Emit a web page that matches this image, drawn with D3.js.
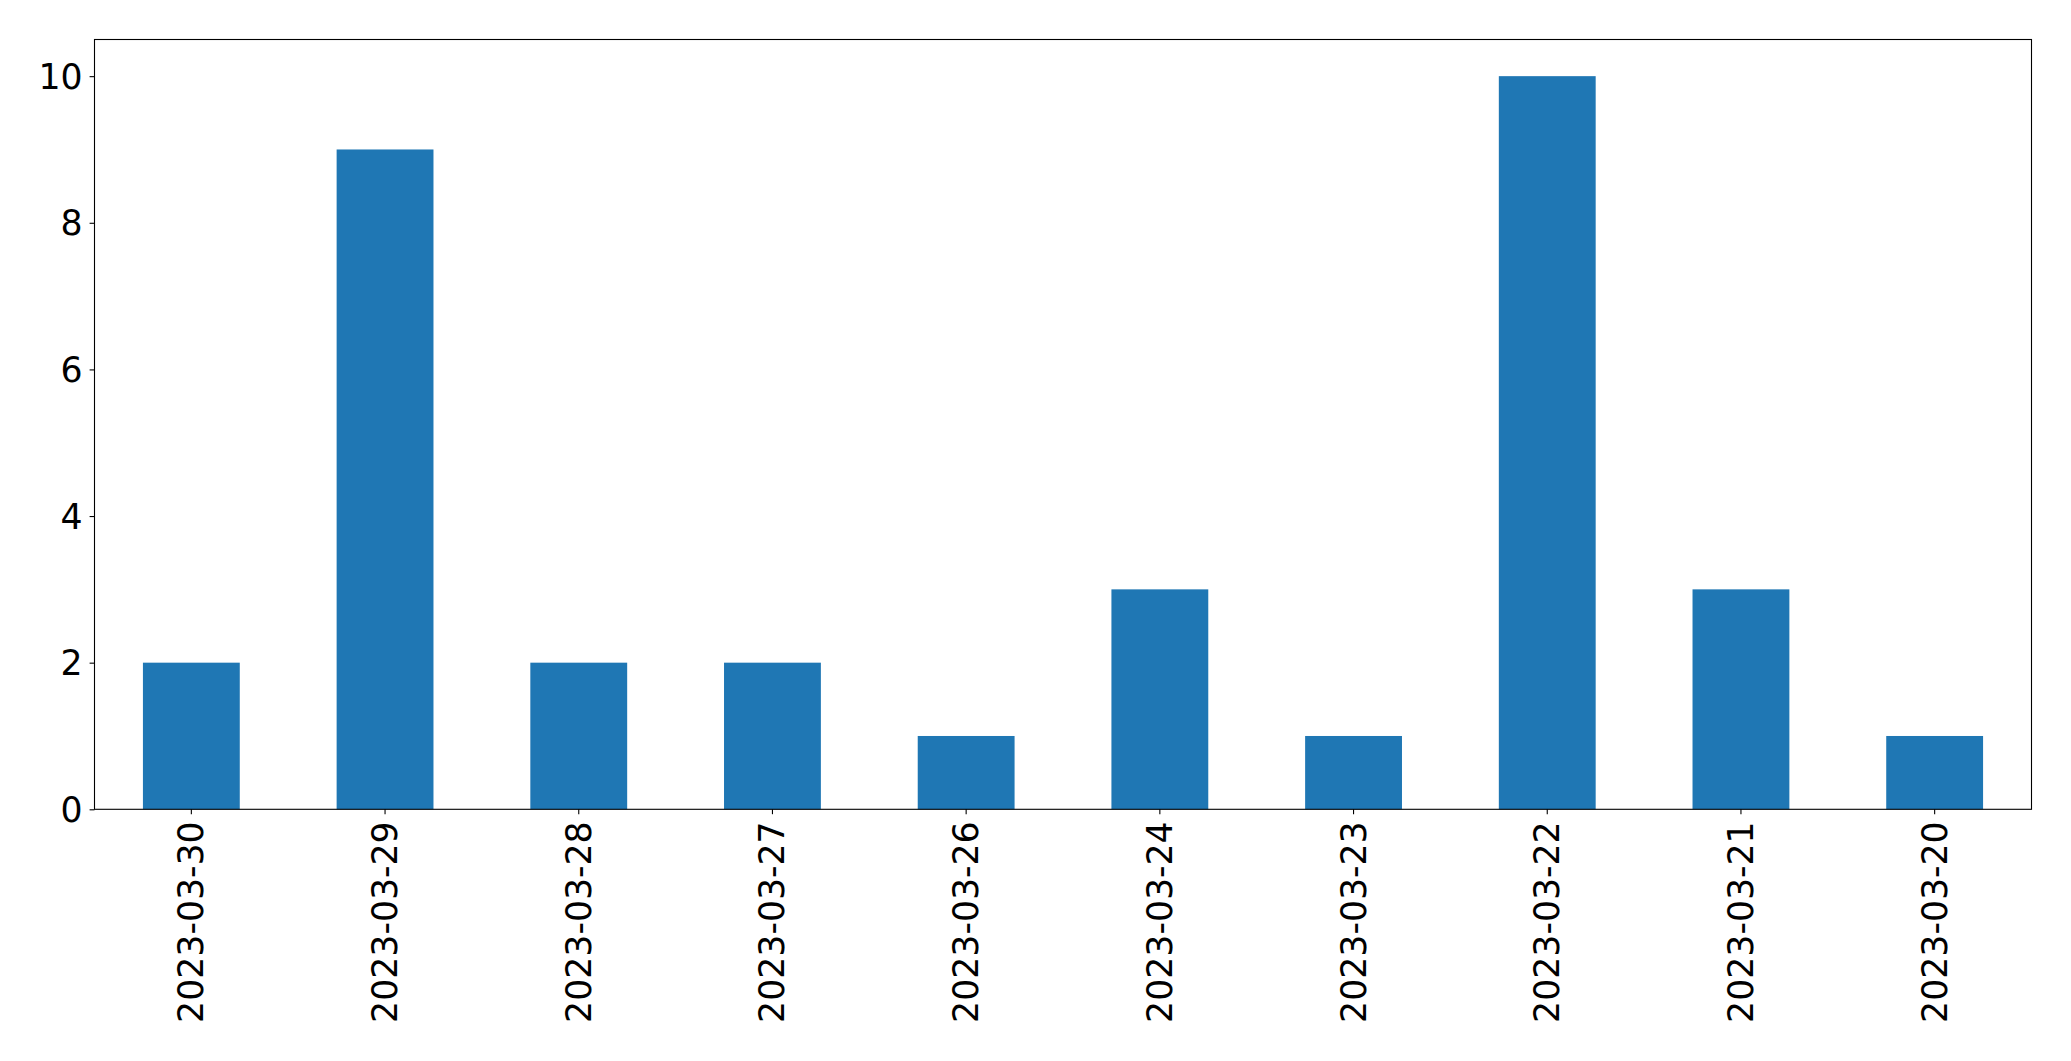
<!DOCTYPE html>
<html><head><meta charset="utf-8">
<script src="https://cdn.jsdelivr.net/npm/d3@7"></script>
<style>body{margin:0;background:#fff}svg{display:block}text{font-family:"DejaVu Sans",sans-serif}</style>
</head><body><svg id="c" width="2071" height="1061"></svg>
<script>
const categories = ["2023-03-30","2023-03-29","2023-03-28","2023-03-27","2023-03-26","2023-03-24","2023-03-23","2023-03-22","2023-03-21","2023-03-20"];
const values = [2,9,2,2,1,3,1,10,3,1];
const yTicks = [0,2,4,6,8,10];

const svg = d3.select("#c");
const L = 94.5, R = 2031.5, T = 39.5, B = 809.3;
const x = d3.scaleBand().domain(categories).range([L, R]).paddingInner(0.5).paddingOuter(0.25);
const y = d3.scaleLinear().domain([0, 10.5]).range([B, T]);
const fs = 34.7;

svg.append("g").selectAll("rect").data(values).join("rect")
  .attr("x", (d,i) => x(categories[i])).attr("width", x.bandwidth())
  .attr("y", d => y(d)).attr("height", d => B - y(d))
  .attr("fill", "#1f77b4");

const ya = svg.append("g").attr("transform", `translate(${L},0)`)
  .call(d3.axisLeft(y).tickValues(yTicks).tickSize(4.9).tickPadding(7).tickFormat(d3.format("d")));
ya.select(".domain").remove();
ya.selectAll("text").attr("font-size", fs).attr("fill","#000").attr("font-family","DejaVu Sans").attr("dy","0.35em");
ya.selectAll("line").attr("stroke","#000").attr("stroke-width",1.1);

const xa = svg.append("g").attr("transform", `translate(0,${B})`)
  .call(d3.axisBottom(x).tickSize(4.9).tickPadding(0));
xa.select(".domain").remove();
xa.selectAll("line").attr("stroke","#000").attr("stroke-width",1.1);
xa.selectAll("text").attr("font-size", fs).attr("fill","#000").attr("font-family","DejaVu Sans")
  .attr("text-anchor","end").attr("dy",null).attr("y",null)
  .attr("transform","translate(0,12) rotate(-90)").attr("dominant-baseline","central").attr("x",0);

svg.append("rect").attr("x", L).attr("y", T).attr("width", R-L).attr("height", B-T)
  .attr("fill","none").attr("stroke","#000").attr("stroke-width",1.1);
</script></body></html>
